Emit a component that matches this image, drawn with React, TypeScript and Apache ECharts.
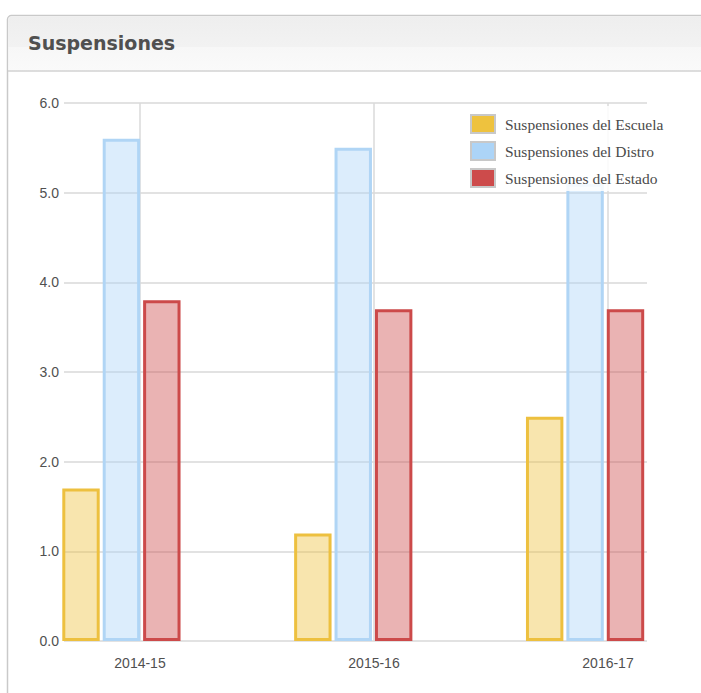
import React, { useEffect, useRef } from "react";
import * as echarts from "echarts";

const categories: string[] = ["2014-15", "2015-16", "2016-17"];
const seriesNames: string[] = [
  "Suspensiones del Escuela",
  "Suspensiones del Distro",
  "Suspensiones del Estado",
];
const escuelaValues: number[] = [1.7, 1.2, 2.5];
const distroValues: number[] = [5.6, 5.5, 5.1];
const estadoValues: number[] = [3.8, 3.7, 3.7];
const yTicks: number[] = [0, 1, 2, 3, 4, 5, 6];

const COLORS = ["#eec23e", "#acd4f7", "#cd4b4b"];
const BORDERS = ["#edc03f", "#b0d5f5", "#cc4a4a"];
const FILLS = [
  "rgba(238,194,62,0.42)",
  "rgba(172,212,247,0.42)",
  "rgba(205,75,75,0.42)",
];

export default function App() {
  const ref = useRef<HTMLDivElement>(null);
  useEffect(() => {
    if (!ref.current) return;
    const chart = echarts.init(ref.current, null, { renderer: "svg" });
    const values = [escuelaValues, distroValues, estadoValues];
    const gridTop = 103;
    const gridBottom = 52;
    const axisFont = "Liberation Sans";
    chart.setOption({
      animation: false,
      backgroundColor: "#ffffff",
      title: {
        text: "Suspensiones",
        left: 23,
        top: 28,
        textStyle: {
          fontFamily: "DejaVu Sans",
          fontWeight: "bold",
          fontSize: 19,
          color: "#505050",
        },
      },
      graphic: [
        {
          type: "rect",
          z: -10,
          shape: { x: 7.5, y: 15.5, width: 760, height: 760, r: 4 },
          style: { fill: "#ffffff", stroke: "#c9c9c9", lineWidth: 1.5 },
        },
        {
          type: "rect",
          z: -9,
          shape: { x: 8.5, y: 16.5, width: 760, height: 54, r: [3, 0, 0, 0] },
          style: {
            fill: new echarts.graphic.LinearGradient(0, 0, 0, 1, [
              { offset: 0, color: "#eeeeee" },
              { offset: 0.56, color: "#f2f2f2" },
              { offset: 0.57, color: "#f7f7f7" },
              { offset: 1, color: "#fafafa" },
            ]),
          },
        },
        {
          type: "line",
          z: -8,
          shape: { x1: 8, y1: 71, x2: 760, y2: 71 },
          style: { stroke: "#d2d2d2", lineWidth: 1.5 },
        },
      ],
      legend: {
        orient: "vertical",
        left: 462,
        top: 106,
        padding: [8, 10, 3, 8],
        backgroundColor: "rgba(255,255,255,0.85)",
        itemWidth: 24,
        itemHeight: 18,
        itemGap: 7,
        icon: "rect",
        textStyle: {
          fontFamily: "Liberation Serif",
          fontSize: 15.5,
          color: "#4a4a4a",
          padding: [0, 0, 2, 5],
        },
        data: seriesNames.map((n, i) => ({
          name: n,
          itemStyle: {
            color: COLORS[i],
            borderColor: "#c8c8c8",
            borderWidth: 2,
          },
        })),
      },
      grid: [
        { left: 64, right: 54, top: gridTop, bottom: gridBottom },
        { left: 5.5, width: 700.5, top: gridTop, bottom: gridBottom },
        { left: 140, right: 93, top: gridTop, bottom: gridBottom },
      ],
      xAxis: [
        { type: "value", gridIndex: 0, min: 0, max: 1, show: false },
        {
          type: "category",
          gridIndex: 1,
          data: categories,
          show: false,
        },
        {
          type: "category",
          gridIndex: 2,
          data: categories,
          boundaryGap: false,
          axisLine: { show: false },
          axisTick: { show: false },
          axisLabel: {
            margin: 15,
            fontFamily: axisFont,
            fontSize: 14,
            color: "#505050",
          },
          splitLine: {
            show: true,
            lineStyle: { color: "#dadada", width: 1.5 },
          },
        },
      ],
      yAxis: [
        {
          type: "value",
          gridIndex: 0,
          min: yTicks[0],
          max: yTicks[yTicks.length - 1],
          interval: 1,
          axisLine: { show: false },
          axisTick: { show: false },
          axisLabel: {
            margin: 5,
            fontFamily: axisFont,
            fontSize: 14,
            color: "#505050",
            formatter: (v: number) => v.toFixed(1),
          },
          splitLine: {
            show: true,
            lineStyle: { color: "#d9d9d9", width: 1.5 },
          },
        },
        {
          type: "value",
          gridIndex: 1,
          min: yTicks[0],
          max: yTicks[yTicks.length - 1],
          show: false,
          splitLine: { show: false },
        },
        {
          type: "value",
          gridIndex: 2,
          min: yTicks[0],
          max: yTicks[yTicks.length - 1],
          show: false,
          splitLine: { show: false },
        },
      ],
      series: seriesNames.map((n, i) => ({
        name: n,
        type: "bar",
        xAxisIndex: 1,
        yAxisIndex: 1,
        data: values[i],
        barGap: "8%",
        barCategoryGap: "49%",
        itemStyle: {
          color: FILLS[i],
          borderColor: BORDERS[i],
          borderWidth: 3,
        },
        emphasis: { disabled: true },
      })),
    });
    return () => chart.dispose();
  }, []);
  return (
    <div
      ref={ref}
      style={{ position: "absolute", left: 0, top: 0, width: 701, height: 693 }}
    />
  );
}
